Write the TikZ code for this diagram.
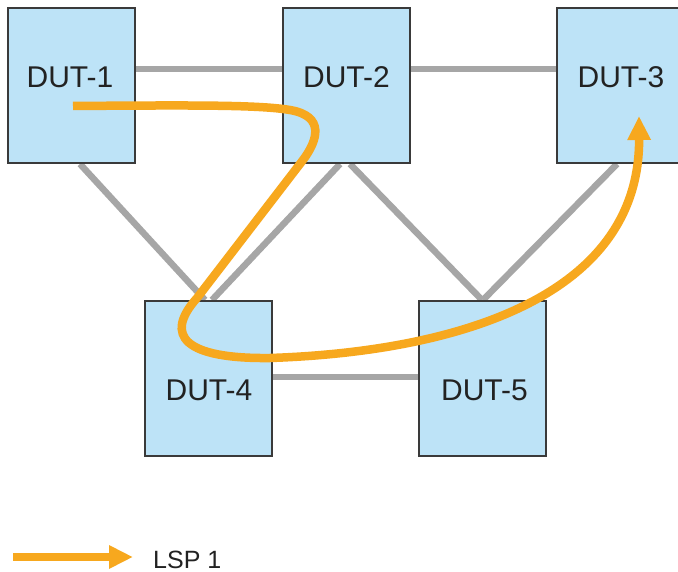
\documentclass[tikz,border=0pt]{standalone}
\usepackage{fontspec}
\setmainfont{Liberation Sans}
\usetikzlibrary{arrows.meta,backgrounds}
\definecolor{boxfill}{HTML}{BDE3F7}
\definecolor{boxline}{HTML}{3A3A3A}
\definecolor{linkgray}{HTML}{A6A6A6}
\definecolor{lsporange}{HTML}{F7A81E}
\definecolor{txt}{HTML}{222222}
\begin{document}
\begin{tikzpicture}[x=1pt,y=-1pt,
  dut/.style={draw=boxline, line width=2pt, fill=boxfill, minimum width=127pt, minimum height=155pt, inner sep=0pt},
  dutlabel/.style={anchor=base, font=\fontsize{30}{36}\selectfont, text=txt, inner sep=0pt},
  link/.style={draw=linkgray, line width=6.5pt},
  lsp/.style={draw=lsporange, line width=8.5pt, -{Triangle[length=24pt,width=22pt]}}
]
\useasboundingbox (0,0) rectangle (678,572);
\begin{scope}
\clip (0,0) rectangle (678,572);
\node[dut] (d1) at (71.5,85.5) {};
\node[dut] (d2) at (346,85.5) {};
\node[dut] (d3) at (620.5,85.5) {};
\node[dut] (d4) at (208.5,378.5) {};
\node[dut] (d5) at (482.5,378.5) {};
\end{scope}

\node[dutlabel] (t1) at (70,88) {DUT-1};
\node[dutlabel] (t2) at (346.5,88) {DUT-2};
\node[dutlabel] (t3) at (621,88) {DUT-3};
\node[dutlabel] (t4) at (209,400) {DUT-4};
\node[dutlabel] (t5) at (484.5,400) {DUT-5};

\begin{scope}[on background layer]
\fill[white] (0,0) rectangle (678,572);
\draw[link] ([yshift=16.5pt]d1.east) -- ([yshift=16.5pt]d2.west);
\draw[link] ([yshift=16.5pt]d2.east) -- ([yshift=16.5pt]d3.west);
\draw[link] ([yshift=1.5pt]d4.east) -- ([yshift=1.5pt]d5.west);
\draw[link] ([xshift=8.5pt]d1.south) -- ([xshift=-3.5pt]d4.north);
\draw[link] ([xshift=-6pt]d2.south) -- ([xshift=3.5pt]d4.north);
\draw[link] ([xshift=4pt]d2.south) -- ([xshift=-0.5pt]d5.north);
\draw[link] ([xshift=-3.5pt]d3.south) -- ([xshift=0.5pt]d5.north);
\end{scope}

\coordinate (ls) at (73,106);
\coordinate (le) at (639,116);
\draw[lsp] (ls) .. controls (200,105) and (260,105) .. (290,110)
  .. controls (325,116) and (318,140) .. (303,160)
  -- (197,298)
  .. controls (163,336) and (185,359) .. (270,358)
  .. controls (450,352) and (640,300) .. (le);

\coordinate (la) at (13,557);
\coordinate (lb) at (133,557);
\draw[lsp] (la) -- (lb);
\node[anchor=base west, font=\fontsize{25}{30}\selectfont, text=txt, inner sep=0pt] (lt) at (153,568) {LSP 1};
\end{tikzpicture}
\end{document}
